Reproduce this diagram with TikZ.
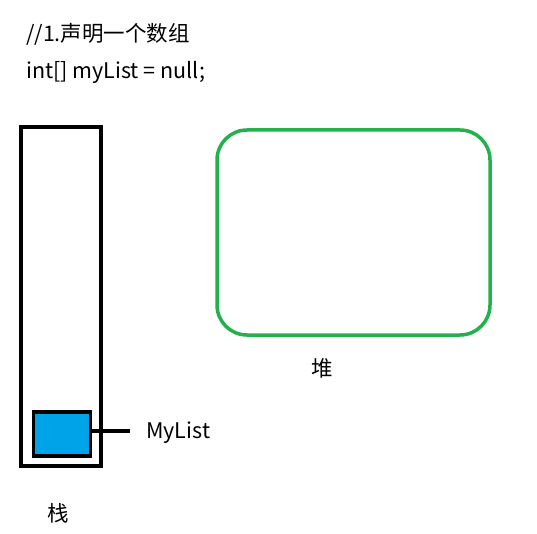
\documentclass[tikz,border=0pt]{standalone}
\usepackage{fontspec}
\setmainfont{Noto Sans CJK SC}
\usepackage{tikz}
\definecolor{paintblue}{RGB}{0,162,232}
\definecolor{paintgreen}{RGB}{34,177,76}

\begin{document}
\begin{tikzpicture}[x=1pt,y=-1pt]
            \tikzstyle{thick box}=[draw=black,line width=3.5pt]
            \tikzstyle{label}=[font=\fontsize{21.5}{24}\selectfont,inner sep=0pt]
                \useasboundingbox (0,0) rectangle (537,534);

                \node[label,anchor=west] (T-1) at (26, 34){//1.声明一个数组};
                \node[label,anchor=west] (T-2) at (26, 72){int[] myList = null;};

                \node[thick box,minimum width=80pt,minimum height=339pt,inner sep=0pt] (Stack) at (61, 296.5){};
                \node[thick box,fill=paintblue,minimum width=57pt,minimum height=44pt,inner sep=0pt] (Ref) at (62, 434){};
                \node[draw=paintgreen,line width=3.5pt,rounded corners=30pt,minimum width=273pt,minimum height=205pt] (Heap) at (353.5, 232.5){};

                \coordinate (End) at (130, 431);
                \node[label,anchor=west] (Name) at (146, 433){MyList};
                \node[label] (Stack-Name) at (58, 513){栈};
                \node[label] (Heap-Name) at (322, 368){堆};

                \draw[line width=3.5pt] (Ref.east |- End) -- (End);
        \end{tikzpicture}
\end{document}
